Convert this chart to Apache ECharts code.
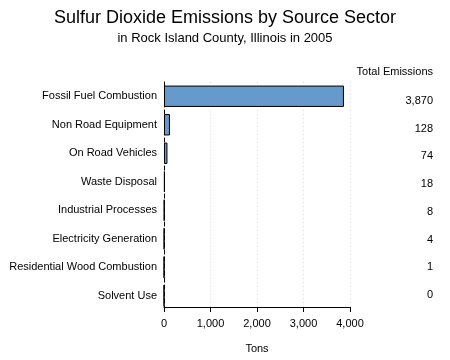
<!DOCTYPE html>
<html><head><meta charset="utf-8">
<script src="https://cdn.jsdelivr.net/npm/echarts@6/dist/echarts.min.js"></script>
<style>html,body{margin:0;padding:0;background:#fff}#c{width:450px;height:360px}</style>
</head><body><div id="c"></div>
<script>
const categories = ["Fossil Fuel Combustion","Non Road Equipment","On Road Vehicles","Waste Disposal","Industrial Processes","Electricity Generation","Residential Wood Combustion","Solvent Use"];
const values = [3870, 128, 74, 18, 8, 4, 1, 0];
const xTicks = [0, 1000, 2000, 3000, 4000];
const font = "Liberation Sans";
const fmt = v => v.toLocaleString('en-US');
const chart = echarts.init(document.getElementById('c'), null, {renderer:'canvas'});
chart.setOption({
  animation:false,
  backgroundColor:'#fff',
  title:[
    {text:'Sulfur Dioxide Emissions by Source Sector', left:'center', top:4, textStyle:{fontFamily:font, fontSize:18, fontWeight:'normal', color:'#000'}},
    {text:'in Rock Island County, Illinois in 2005', left:'center', top:27, textStyle:{fontFamily:font, fontSize:13, fontWeight:'normal', color:'#000'}},
    {text:'Total Emissions', right:17, top:66, padding:0, textStyle:{fontFamily:font, fontSize:11, fontWeight:'normal', color:'#000'}}
  ],
  grid:[
    {left:164, right:100, top:82, bottom:50, containLabel:false},
    {left:164, right:100, top:87, bottom:51, containLabel:false}
  ],
  xAxis:[
    {type:'value', gridIndex:0, min:xTicks[0], max:xTicks[xTicks.length-1], interval:1000, offset:-3,
      name:'Tons', nameLocation:'middle', nameGap:36, nameTextStyle:{fontFamily:font, fontSize:11, color:'#000'},
      axisLine:{show:true, lineStyle:{color:'#000', width:1}},
      axisTick:{show:true, length:5, lineStyle:{color:'#000'}},
      axisLabel:{fontFamily:font, fontSize:11, color:'#000', margin:11, formatter:v=>fmt(v)},
      splitLine:{show:true, lineStyle:{color:'#d8d8d8', type:[1,3]}}
    },
    {type:'value', gridIndex:1, min:0, max:4000, show:false}
  ],
  yAxis:[
    {type:'category', gridIndex:0, data:categories, inverse:true,
      axisLine:{show:true, lineStyle:{color:'#000', type:[4,3]}},
      axisTick:{show:false},
      axisLabel:{fontFamily:font, fontSize:11, color:'#000', margin:7}
    },
    {type:'category', gridIndex:1, data:values.map(fmt), inverse:true, position:'right',
      axisLine:{show:false}, axisTick:{show:false}, splitLine:{show:false},
      axisLabel:{fontFamily:font, fontSize:11, color:'#000', align:'right', margin:83}
    }
  ],
  series:[{type:'bar', xAxisIndex:0, yAxisIndex:0, data:values, barCategoryGap:'25%',
    itemStyle:{color:'#6699cc', borderColor:'#000', borderWidth:1}}]
});
</script></body></html>
